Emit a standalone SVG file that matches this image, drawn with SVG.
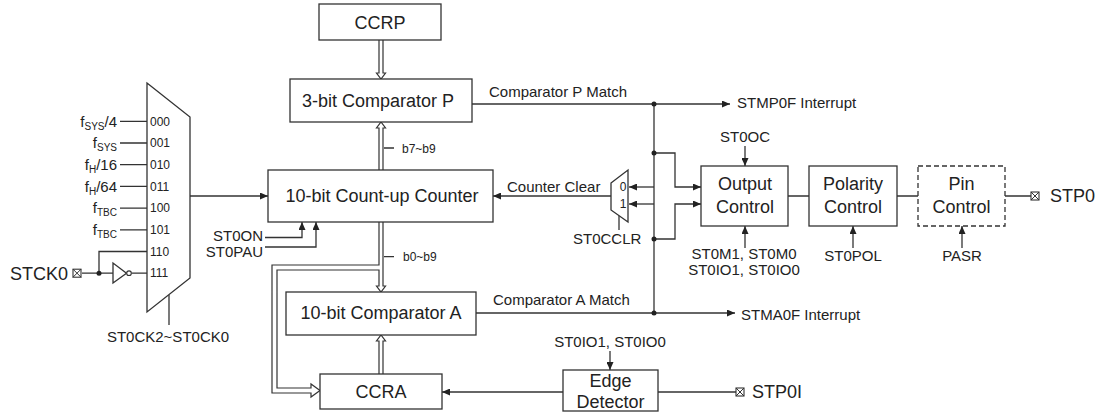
<svg xmlns="http://www.w3.org/2000/svg" width="1098" height="413" viewBox="0 0 1098 413">
<style>
text{font-family:"Liberation Sans",Arial,sans-serif;fill:#222}
.box{fill:#fff;stroke:#333;stroke-width:1.3}
.dash{fill:#fff;stroke:#333;stroke-width:1.3;stroke-dasharray:5 3}
.ln{fill:none;stroke:#333;stroke-width:1.3}
.arr{fill:none;stroke:#333;stroke-width:1.3;marker-end:url(#ah)}
.bus{fill:none;stroke:#333;stroke-width:1.2}
.dot{fill:#222}
.t18{font-size:18px;text-anchor:middle}
.t15{font-size:15px}
.t12{font-size:12px}
.sub{font-size:10px}
</style>
<defs>
<marker id="ah" markerUnits="userSpaceOnUse" markerWidth="8" markerHeight="7" refX="8" refY="3.5" orient="auto">
<path d="M0,0 L8,3.5 L0,7 z" fill="#222"/>
</marker>
<g id="pinsym"><rect x="0" y="0" width="8" height="8" fill="#fff" stroke="#333" stroke-width="1.1"/><path d="M0,0 L8,8 M8,0 L0,8" stroke="#333" stroke-width="1"/></g>
</defs>
<rect width="1098" height="413" fill="#fff"/>

<g id="connectors">
<!-- clock mux inputs -->
<path class="ln" d="M120,121.3 H147 M120,143 H147 M120,164.7 H147 M120,186.4 H147 M120,208.1 H147 M120,229.8 H147"/>
<path class="ln" d="M99,273.2 V251.5 H147 M82,273.2 H113 M131.5,273.2 H147"/>
<path class="ln" d="M169,295 V325"/>
<path class="arr" d="M190,196 H268"/>
<path class="arr" d="M265,237.5 H302 V222"/>
<path class="arr" d="M265,247 H316 V222"/>
<!-- buses -->
<path class="bus" d="M379,40 V73 H376.5 L381,79 L385.5,73 H383 V40"/>
<path class="bus" d="M379,170 V128 H376.5 L381,122 L385.5,128 H383 V170"/>
<path class="bus" d="M383,222 V286 H385.5 L381,292 L376.5,286 H379 V270 H277 V388 H311 V384 L320,390.5 L311,397 V393 H272 V265 H379 V222"/>
<path class="bus" d="M379,374 V341 H376.5 L381,335 L385.5,341 H383 V374"/>
<path class="ln" d="M384,148 H394 M384,256.7 H394"/>
<!-- match lines -->
<path class="arr" d="M472,104 H730"/>
<path class="arr" d="M476,313 H735"/>
<path class="ln" d="M654,104 V313"/>
<path class="arr" d="M654,153 H675 V187 H701"/>
<path class="arr" d="M654,239 H675 V204 H701"/>
<path class="arr" d="M654,187 H629"/>
<path class="arr" d="M654,204 H629"/>
<path class="ln" d="M619,215.6 V230"/>
<path class="arr" d="M611,196 H493"/>
<path class="ln" d="M788,196 H809 M897,196 H918 M1005,196 H1031"/>
<path class="arr" d="M745,146 V166"/>
<path class="arr" d="M745,248 V226"/>
<path class="arr" d="M853,248 V226"/>
<path class="arr" d="M962,248 V226"/>
<path class="arr" d="M610,351 V370"/>
<path class="arr" d="M563,392 H442"/>
<path class="ln" d="M658,392 H736"/>
<circle class="dot" cx="99" cy="273.2" r="2.5"/>
<circle class="dot" cx="654" cy="104" r="2.5"/>
<circle class="dot" cx="654" cy="153" r="2.5"/>
<circle class="dot" cx="654" cy="239" r="2.5"/>
<circle class="dot" cx="654" cy="313" r="2.5"/>
<text class="t15" x="489" y="97">Comparator P Match</text>
<text class="t15" x="493" y="305">Comparator A Match</text>
<text class="t15" x="507" y="192">Counter Clear</text>
<text class="t15" x="737" y="108">STMP0F Interrupt</text>
<text class="t15" x="741" y="320">STMA0F Interrupt</text>
<text class="t12" x="402" y="152.5">b7~b9</text>
<text class="t12" x="403" y="261">b0~b9</text>
<text class="t15" x="263" y="240.5" text-anchor="end">ST0ON</text>
<text class="t15" x="263" y="257" text-anchor="end">ST0PAU</text>
<text class="t15" x="168" y="342" text-anchor="middle">ST0CK2~ST0CK0</text>
<text class="t15" x="573" y="244">ST0CCLR</text>
<text class="t15" x="745" y="142" text-anchor="middle">ST0OC</text>
<text class="t15" x="744" y="259" text-anchor="middle">ST0M1, ST0M0</text>
<text class="t15" x="744" y="274.5" text-anchor="middle">ST0IO1, ST0IO0</text>
<text class="t15" x="853" y="261" text-anchor="middle">ST0POL</text>
<text class="t15" x="962" y="261" text-anchor="middle">PASR</text>
<text class="t15" x="610" y="347" text-anchor="middle">ST0IO1, ST0IO0</text>
</g>

<g id="clk-mux">
<polygon class="box" points="147,83 190,117 190,278 147,312"/>
<text class="t12" x="150" y="125.5">000</text>
<text class="t12" x="150" y="147.2">001</text>
<text class="t12" x="150" y="168.9">010</text>
<text class="t12" x="150" y="190.6">011</text>
<text class="t12" x="150" y="212.3">100</text>
<text class="t12" x="150" y="234">101</text>
<text class="t12" x="150" y="255.7">110</text>
<text class="t12" x="150" y="277.4">111</text>
<text class="t15" x="117" y="126.5" text-anchor="end">f<tspan class="sub" dy="3">SYS</tspan><tspan dy="-3">/4</tspan></text>
<text class="t15" x="117" y="148.2" text-anchor="end">f<tspan class="sub" dy="3">SYS</tspan></text>
<text class="t15" x="117" y="169.9" text-anchor="end">f<tspan class="sub" dy="3">H</tspan><tspan dy="-3">/16</tspan></text>
<text class="t15" x="117" y="191.6" text-anchor="end">f<tspan class="sub" dy="3">H</tspan><tspan dy="-3">/64</tspan></text>
<text class="t15" x="117" y="213.3" text-anchor="end">f<tspan class="sub" dy="3">TBC</tspan></text>
<text class="t15" x="117" y="235" text-anchor="end">f<tspan class="sub" dy="3">TBC</tspan></text>
</g>

<g id="stck0">
<use href="#pinsym" x="73" y="269.2"/>
<text x="10" y="279.5" font-size="18">STCK0</text>
</g>

<g id="inverter">
<polygon class="box" points="113,263 113,283 126.5,273.2"/>
<circle cx="129" cy="273.2" r="2.3" fill="#fff" stroke="#333" stroke-width="1.1"/>
</g>

<g id="ccrp"><rect class="box" x="319" y="4" width="122" height="36"/><text class="t18" x="380" y="29">CCRP</text></g>
<g id="comp-p"><rect class="box" x="290" y="79" width="182" height="43"/><text class="t18" x="378" y="107">3-bit Comparator P</text></g>
<g id="counter"><rect class="box" x="268" y="170" width="225" height="52"/><text class="t18" x="382" y="202">10-bit Count-up Counter</text></g>
<g id="comp-a"><rect class="box" x="286" y="292" width="190" height="43"/><text class="t18" x="381" y="319">10-bit Comparator A</text></g>
<g id="ccra"><rect class="box" x="320" y="374" width="122" height="35"/><text class="t18" x="381" y="398">CCRA</text></g>

<g id="clr-mux">
<polygon class="box" points="611,183 628,170 628,222 611,210"/>
<text x="623" y="191" font-size="12" text-anchor="middle">0</text>
<text x="623" y="208" font-size="12" text-anchor="middle">1</text>
</g>

<g id="output-control"><rect class="box" x="701" y="166" width="87" height="60"/><text class="t18" x="745" y="189.5">Output</text><text class="t18" x="745" y="213">Control</text></g>
<g id="polarity-control"><rect class="box" x="809" y="166" width="88" height="60"/><text class="t18" x="853" y="189.5">Polarity</text><text class="t18" x="853" y="213">Control</text></g>
<g id="pin-control"><rect class="dash" x="918" y="166" width="87" height="60"/><text class="t18" x="961.5" y="189.5">Pin</text><text class="t18" x="961.5" y="213">Control</text></g>
<g id="stp0"><use href="#pinsym" x="1031" y="192"/><text x="1050" y="202" font-size="18">STP0</text></g>
<g id="edge-detector"><rect class="box" x="563" y="370" width="95" height="41"/><text class="t18" x="610.5" y="386.5">Edge</text><text class="t18" x="610.5" y="408">Detector</text></g>
<g id="stp0i"><use href="#pinsym" x="736" y="388"/><text x="752" y="398" font-size="18">STP0I</text></g>
</svg>
